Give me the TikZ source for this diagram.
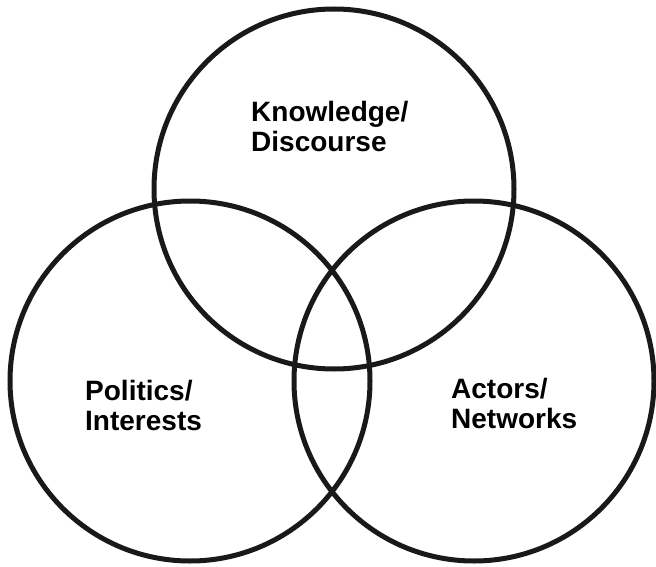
\documentclass[tikz,border=0pt]{standalone}
\usepackage{fontspec}
\setmainfont{Liberation Sans}
\begin{document}
\begin{tikzpicture}[x=1pt,y=-1pt,
  ring/.style={circle, draw=black!90, line width=5pt, minimum size=360pt, inner sep=0pt},
  lbl/.style={align=left, inner sep=0pt, anchor=base west, font=\fontsize{28}{30}\selectfont\bfseries}]
\useasboundingbox (0,0) rectangle (656,567);
\node[ring] (kd) at (334,189) {};
\node[ring] (pi) at (190,381) {};
\node[ring] (an) at (474,381) {};
\node[lbl] (tkd) at (251,152) {Knowledge/\\Discourse};
\node[lbl] (tpi) at (85,430) {Politics/\\Interests};
\node[lbl] (tan) at (451,428) {Actors/\\Networks};
\end{tikzpicture}
\end{document}
